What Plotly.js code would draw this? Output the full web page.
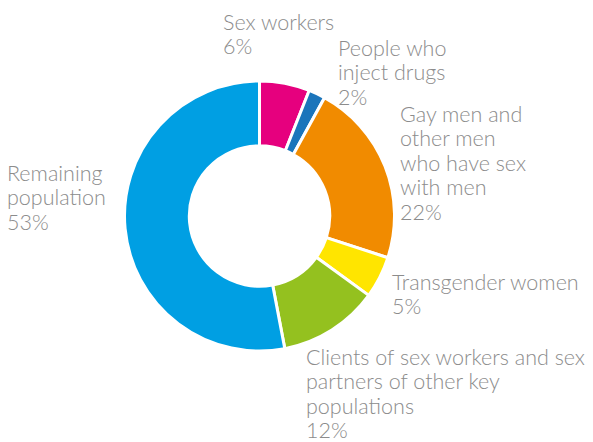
<!DOCTYPE html>
<html>
<head>
<meta charset="utf-8">
<script src="https://cdn.plot.ly/plotly-3.0.1.min.js"></script>
<style>html,body{margin:0;padding:0;background:#fff;}#chart{width:593px;height:442px;}</style>
</head>
<body>
<div id="chart"></div>
<script>
const categories = ["Sex workers", "People who inject drugs", "Gay men and other men who have sex with men", "Transgender women", "Clients of sex workers and sex partners of other key populations", "Remaining population"];
const labelLines = [["Sex workers"], ["People who", "inject drugs"], ["Gay men and", "other men", "who have sex", "with men"], ["Transgender women"], ["Clients of sex workers and sex", "partners of other key", "populations"], ["Remaining", "population"]];
const shares = [6, 2, 22, 5, 12, 53];
const colors = ["#e6007e", "#1b75bb", "#f18b00", "#ffe500", "#94c11f", "#009fe3"];

const W = 593, H = 442;
// label anchor positions (pixels: left edge, centre of first line)
const labelPos = [[221, 22], [336, 48], [398, 114], [390, 282], [304, 357], [5, 173]];
const lineGap = 24.4;

const annotations = [];
categories.forEach((c, i) => {
  const lines = labelLines[i].concat([shares[i] + "%"]);
  lines.forEach((t, k) => {
    annotations.push({
      text: t,
      xref: "paper", yref: "paper",
      x: labelPos[i][0] / W, y: 1 - (labelPos[i][1] + k * lineGap) / H,
      xanchor: "left", yanchor: "middle", align: "left",
      showarrow: false,
      font: {family: "Lato, sans-serif", size: 21.5, color: "#8c8c8c", weight: 300}
    });
  });
});

const cx = 259.5, cy = 216, r = 135;
const trace = {
  type: "pie",
  labels: categories,
  values: shares,
  hole: 0.52,
  sort: false,
  direction: "clockwise",
  rotation: 0,
  textinfo: "none",
  hoverinfo: "label+percent",
  marker: {colors: colors, line: {color: "#ffffff", width: 3}},
  domain: {x: [(cx - r) / W, (cx + r) / W], y: [1 - (cy + r) / H, 1 - (cy - r) / H]}
};

Plotly.newPlot("chart", [trace], {
  width: W, height: H,
  margin: {l: 0, r: 0, t: 0, b: 0},
  showlegend: false,
  paper_bgcolor: "#ffffff",
  annotations: annotations
}, {displayModeBar: false, staticPlot: true});
</script>
</body>
</html>
